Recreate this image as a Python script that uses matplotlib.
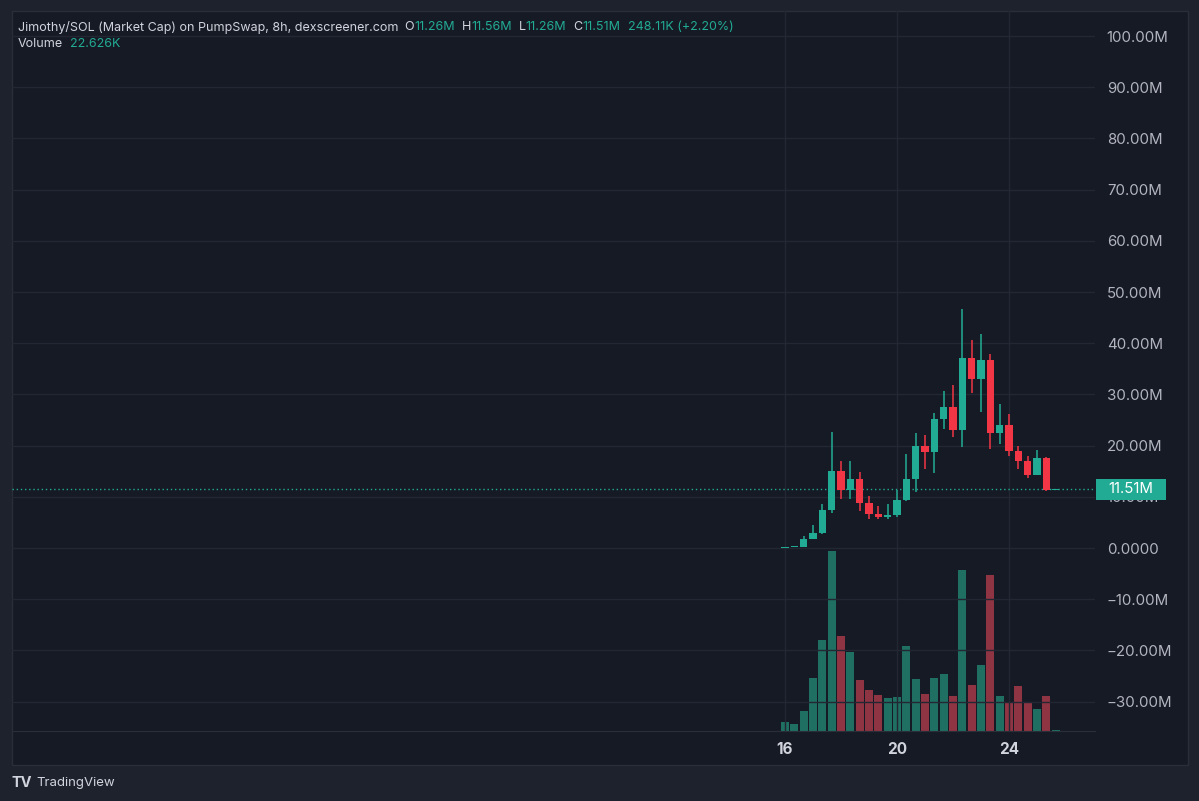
import numpy as np
import matplotlib
matplotlib.use("Agg")
import matplotlib.pyplot as plt
from matplotlib.patches import Rectangle

# 8h candles of Jimothy/SOL market cap (in millions), starting on the 16th
start_day = 16
step_days = 8 / 24
opens = [0.08, 0.10, 0.25, 1.8, 2.9, 7.5, 15.0, 11.3, 13.4, 8.7, 6.6, 6.1, 6.4, 9.3, 13.4,
         19.9, 18.8, 25.2, 27.6, 23.0, 37.2, 33.0, 36.7, 22.5, 24.0, 18.9, 17.0, 14.3, 17.6, 11.26]
highs = [0.15, 0.30, 2.3, 4.55, 8.65, 22.6, 17.0, 16.9, 14.8, 10.1, 8.2, 8.6, 11.3, 18.4, 22.5,
         22.1, 26.3, 30.7, 31.8, 46.6, 40.6, 41.8, 37.9, 28.1, 26.1, 20.0, 18.0, 19.1, 17.8, 11.56]
lows = [0.05, 0.10, 0.15, 1.7, 2.8, 6.9, 9.6, 9.6, 7.3, 5.7, 5.7, 5.6, 6.0, 9.1, 11.0,
        15.4, 14.6, 23.2, 21.6, 19.7, 30.3, 26.6, 19.3, 20.4, 18.0, 15.4, 13.6, 14.2, 11.2, 11.26]
closes = [0.10, 0.25, 1.8, 2.9, 7.5, 15.0, 11.3, 13.4, 8.7, 6.6, 6.1, 6.4, 9.3, 13.4, 19.9,
          18.8, 25.2, 27.6, 23.0, 37.2, 33.0, 36.7, 22.5, 24.0, 18.9, 17.0, 14.3, 17.6, 11.26, 11.51]
volumes_k = [174, 134, 400, 1066, 1826, 3594, 1900, 1580, 1026, 814, 726, 654, 674, 1694, 1040,
             734, 1060, 1134, 706, 3226, 926, 1326, 3114, 694, 586, 894, 566, 434, 706, 22.626]

price_ticks = list(range(-30, 101, 10))
date_ticks = [16, 20, 24]

# colours
bg_outer = "#1e222d"
bg_pane = "#161a25"
grid_col = "#232733"
up_col = "#22ab94"
down_col = "#f23645"
vol_up = "#1f6f63"
vol_down = "#8e3443"
text_col = "#d1d4dc"
axis_text = "#b2b5be"

plt.rcParams['font.family'] = ['Inter', 'DejaVu Sans']

W, H = 1199, 801
fig = plt.figure(figsize=(W / 100, H / 100), dpi=100, facecolor=bg_outer)

# pane frame
fig.patches.append(Rectangle((12 / W, (H - 765) / H), (1188 - 12) / W, (765 - 11) / H,
                             transform=fig.transFigure, facecolor=bg_pane,
                             edgecolor="#2a2e39", linewidth=1, zorder=-10))

left, right, top, bottom = 12, 1095, 11, 731
ax = fig.add_axes([left / W, (H - bottom) / H, (right - left) / W, (bottom - top) / H])
ax.patch.set_visible(False)

x = start_day + np.arange(len(opens)) * step_days
o = np.array(opens)
c = np.array(closes)
up = c >= o

# volume on its own scale, drawn behind candles
vax = ax.twinx()
vax.set_ylim(0, 14400)
vax.bar(x, volumes_k, width=0.28, color=[vol_up if u else vol_down for u in up], zorder=1)
vax.set_yticks([])
vax.patch.set_visible(False)
for s in vax.spines.values():
    s.set_visible(False)
vax.set_zorder(1)
ax.set_zorder(2)

# candles
cols = [up_col if u else down_col for u in up]
ax.vlines(x, lows, highs, color=cols, linewidth=1.1, zorder=3)
body_lo = np.minimum(o, c)
body_h = np.maximum(np.abs(c - o), 0.2)
ax.bar(x, body_h, bottom=body_lo, width=0.26, color=cols, zorder=4)

# last price line
last = closes[-1]
ax.axhline(last, color=up_col, linestyle=(0, (1, 2)), linewidth=1, zorder=2)

ax.set_xlim(16 - (785 - left) / 28, 16 + (right - 785) / 28)
ax.set_ylim(-(bottom - 548) / 5.12, (548 - top) / 5.12)

ax.set_yticks(price_ticks)
ax.set_yticklabels(["0.0000" if v == 0 else f"{v:.2f}M".replace("-", "\u2212") for v in price_ticks])
ax.yaxis.tick_right()
ax.tick_params(axis="y", length=0, pad=8.5, labelsize=10.8, labelcolor=axis_text)
ax.set_xticks(date_ticks)
ax.set_xticklabels([str(d) for d in date_ticks])
ax.tick_params(axis="x", length=0, pad=8, labelsize=11, labelcolor=text_col)
for lab in ax.get_xticklabels():
    lab.set_fontweight("bold")
ax.grid(True, color=grid_col, linewidth=1)
ax.set_axisbelow(True)
for name, s in ax.spines.items():
    s.set_visible(name == "bottom")
ax.spines["bottom"].set_color("#2a2e39")

# last price label on the axis
fig.canvas.draw()
ypix = ax.transData.transform((16, last))[1]
fig.patches.append(Rectangle((1096 / W, (ypix - 10.5) / H), 70 / W, 21 / H,
                             transform=fig.transFigure, facecolor=up_col,
                             edgecolor="none", zorder=5))
fig.text(1131 / W, ypix / H, f"{last:.2f}M", color="white", fontsize=10.8,
         ha="center", va="center", zorder=6)

# header legend, placed piece by piece
renderer = fig.canvas.get_renderer()


def text_row(pieces, x0, y0, size):
    xp = x0
    for s, col, gap in pieces:
        t = fig.text(xp / W, (H - y0) / H, s, color=col, fontsize=size, va="center", ha="left")
        bb = t.get_window_extent(renderer=renderer)
        xp += bb.width + gap


hdr = [("Jimothy/SOL (Market Cap) on PumpSwap, 8h, dexscreener.com", text_col, 6),
       ("O", text_col, 0), (f"{opens[-1]:.2f}M", up_col, 7),
       ("H", text_col, 0), (f"{highs[-1]:.2f}M", up_col, 7),
       ("L", text_col, 0), (f"{lows[-1]:.2f}M", up_col, 7),
       ("C", text_col, 0), (f"{closes[-1]:.2f}M", up_col, 7),
       ("248.11K (+2.20%)", up_col, 0)]
text_row(hdr, 18, 27, 9.0)
text_row([("Volume", text_col, 7), (f"{volumes_k[-1]:.3f}K", up_col, 0)], 18, 44, 9.0)

# TradingView mark
fig.text(12 / W, (H - 783) / H, "TV", color=text_col, fontsize=10.5, fontweight="bold",
         va="center", ha="left")
fig.text(36 / W, (H - 783) / H, "TradingView", color=text_col, fontsize=9.5,
         va="center", ha="left")

fig.savefig("out.png", dpi=100, facecolor=bg_outer)
